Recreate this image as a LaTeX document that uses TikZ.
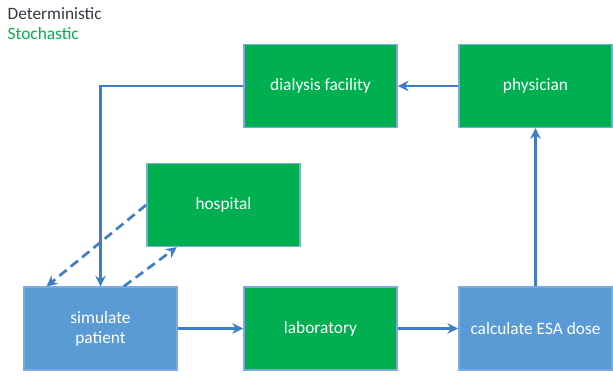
\documentclass[tikz,border=0pt]{standalone}
\usepackage{fontspec}
\setmainfont{Carlito}
\usetikzlibrary{arrows.meta}
\definecolor{esaVert}{RGB}{0,176,80}
\definecolor{esaBleu}{RGB}{91,155,213}
\definecolor{esaBord}{RGB}{125,170,222}
\definecolor{esaFleche}{RGB}{62,126,200}
\definecolor{esaGris}{RGB}{52,56,66}

\begin{document}
\begin{tikzpicture}[
  x=0.75pt, y=-0.75pt,
  every node/.style={font=\fontsize{13}{15}\selectfont},
  sto/.style={draw=esaBord, line width=1.2pt, minimum width=115pt,
              minimum height=62pt, align=center, fill=esaVert, text=white},
  det/.style={draw=esaBord, line width=1.2pt, minimum width=115pt,
              minimum height=62pt, align=center, fill=esaBleu, text=white},
  fl/.style={-{Stealth[length=8pt,width=8pt]}, line width=2pt, esaFleche},
  fd/.style={fl, dash pattern=on 7pt off 4pt}
]
\useasboundingbox (0,0) rectangle (613,375);

\node[anchor=west, text=esaGris] (leg1) at (3,14) {Deterministic};
\node[anchor=west, text=esaVert] (leg2) at (3,34) {Stochastic};

\node[sto] (dial) at (320.5,86)  {dialysis facility};
\node[sto] (phys) at (535.5,86)  {physician};
\node[sto] (hosp) at (223.5,205) {hospital};
\node[det] (sim)  at (100.5,328.5) {simulate\\patient};
\node[sto] (lab)  at (320.5,328.5) {laboratory};
\node[det] (esa)  at (535.5,328.5) {calculate ESA dose};

\draw[fl] (phys) -- (dial);
\draw[fl] (dial.west) -| (sim.north);
\draw[fd] (hosp.west) -- (sim.142);
\draw[fd] (sim.61) -- (hosp.222);
\draw[fl] (sim) -- (lab);
\draw[fl] (lab) -- (esa);
\draw[fl] (esa) -- (phys);

\end{tikzpicture}
\end{document}
